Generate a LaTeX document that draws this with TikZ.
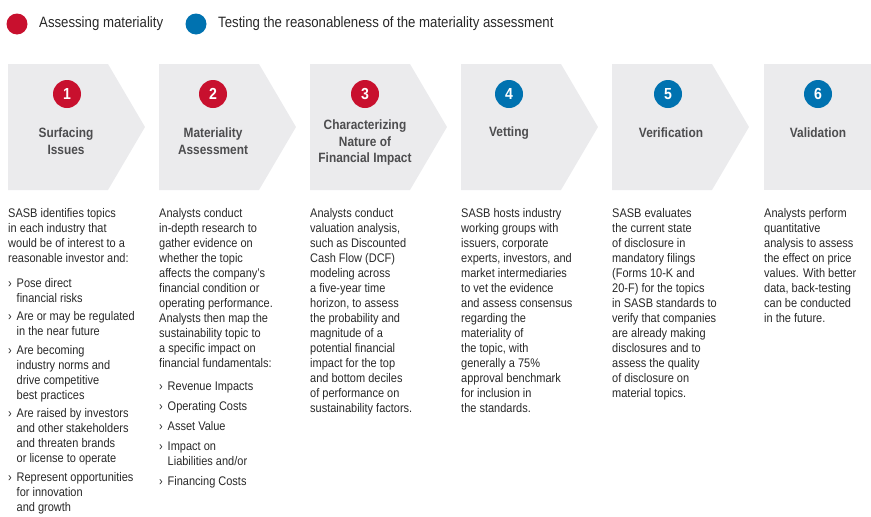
\documentclass[tikz,border=0pt]{standalone}
\usepackage{fontspec}
\setmainfont{Liberation Sans}[FakeStretch=0.88]
\newcommand{\bul}{\makebox[8.5pt][l]{›}}
\newcommand{\ind}{\hspace*{8.5pt}}

\begin{document}
\begin{tikzpicture}[x=1pt, y=-1pt,
    numdot/.style={circle, minimum size=28pt, inner sep=0pt, text=white,
        font=\fontsize{16}{16}\selectfont\bfseries},
    steptitle/.style={align=center, inner sep=0pt, text=titlegrey,
        font=\fontsize{13.5}{16.5}\selectfont\bfseries},
    bodytext/.style={anchor=north west, align=left, inner sep=0pt, text=textgrey,
        font=\fontsize{12.5}{15}\selectfont},
    legendtext/.style={anchor=west, inner sep=0pt, text=textgrey,
        font=\fontsize{15}{18}\selectfont}]
    % Define colors
    \definecolor{sasbred}{RGB}{200, 16, 46}
    \definecolor{sasbblue}{RGB}{0, 114, 176}
    \definecolor{chevgrey}{RGB}{235, 235, 237}
    \definecolor{titlegrey}{RGB}{77, 77, 79}
    \definecolor{textgrey}{RGB}{40, 40, 40}

    \def\chevtop{64}
    \def\chevbot{190}

    \useasboundingbox (0,0) rectangle (871,517);

    % Legend
    \fill[sasbred] (17,24) circle (10.5);
    \node[legendtext] (legred) at (39,24) {Assessing materiality};
    \fill[sasbblue] (196,24) circle (10.5);
    \node[legendtext] (legblue) at (218,24) {Testing the reasonableness of the materiality assessment};

    % Chevrons
    \foreach \x in {8,159,310,461,612} {
        \fill[chevgrey] (\x,\chevtop) -- ++(100,0) -- ++(37,63) -- ++(-37,63) -- ++(-100,0) -- cycle;
    }
    \fill[chevgrey] (764,\chevtop) rectangle (871,\chevbot);

    % Step numbers
    \node[numdot, fill=sasbred] (n1) at (67,94) {1};
    \node[numdot, fill=sasbred] (n2) at (213,94) {2};
    \node[numdot, fill=sasbred] (n3) at (365,94) {3};
    \node[numdot, fill=sasbblue] (n4) at (509,94) {4};
    \node[numdot, fill=sasbblue] (n5) at (668,94) {5};
    \node[numdot, fill=sasbblue] (n6) at (818,94) {6};

    % Step titles
    \node[steptitle] (t1) at (66,141) {Surfacing\\Issues};
    \node[steptitle] (t2) at (213,141) {Materiality\\Assessment};
    \node[steptitle] (t3) at (365,143) {Characterizing\\Nature of\\Financial Impact};
    \node[steptitle] (t4) at (509,133) {Vetting};
    \node[steptitle] (t5) at (671,133) {Verification};
    \node[steptitle] (t6) at (818,133) {Validation};

    % Descriptions
    \node[bodytext] (d1) at (8,208) {SASB identifies topics\\
        in each industry that\\
        would be of interest to a\\
        reasonable investor and:\\[10pt]
        \bul Pose direct\\
        \ind financial risks\\[3.5pt]
        \bul Are or may be regulated\\
        \ind in the near future\\[3.5pt]
        \bul Are becoming\\
        \ind industry norms and\\
        \ind drive competitive\\
        \ind best practices\\[3.5pt]
        \bul Are raised by investors\\
        \ind and other stakeholders\\
        \ind and threaten brands\\
        \ind or license to operate\\[3.5pt]
        \bul Represent opportunities\\
        \ind for innovation\\
        \ind and growth};
    \node[bodytext] (d2) at (159,208) {Analysts conduct\\
        in-depth research to\\
        gather evidence on\\
        whether the topic\\
        affects the company’s\\
        financial condition or\\
        operating performance.\\
        Analysts then map the\\
        sustainability topic to\\
        a specific impact on\\
        financial fundamentals:\\[8pt]
        \bul Revenue Impacts\\[5pt]
        \bul Operating Costs\\[5pt]
        \bul Asset Value\\[5pt]
        \bul Impact on\\
        \ind Liabilities and/or\\[5pt]
        \bul Financing Costs};
    \node[bodytext] (d3) at (310,208) {Analysts conduct\\
        valuation analysis,\\
        such as Discounted\\
        Cash Flow (DCF)\\
        modeling across\\
        a five-year time\\
        horizon, to assess\\
        the probability and\\
        magnitude of a\\
        potential financial\\
        impact for the top\\
        and bottom deciles\\
        of performance on\\
        sustainability factors.};
    \node[bodytext] (d4) at (461,208) {SASB hosts industry\\
        working groups with\\
        issuers, corporate\\
        experts, investors, and\\
        market intermediaries\\
        to vet the evidence\\
        and assess consensus\\
        regarding the\\
        materiality of\\
        the topic, with\\
        generally a 75\%\\
        approval benchmark\\
        for inclusion in\\
        the standards.};
    \node[bodytext] (d5) at (612,208) {SASB evaluates\\
        the current state\\
        of disclosure in\\
        mandatory filings\\
        (Forms 10-K and\\
        20-F) for the topics\\
        in SASB standards to\\
        verify that companies\\
        are already making\\
        disclosures and to\\
        assess the quality\\
        of disclosure on\\
        material topics.};
    \node[bodytext] (d6) at (764,208) {Analysts perform\\
        quantitative\\
        analysis to assess\\
        the effect on price\\
        values. With better\\
        data, back-testing\\
        can be conducted\\
        in the future.};
\end{tikzpicture}
\end{document}
